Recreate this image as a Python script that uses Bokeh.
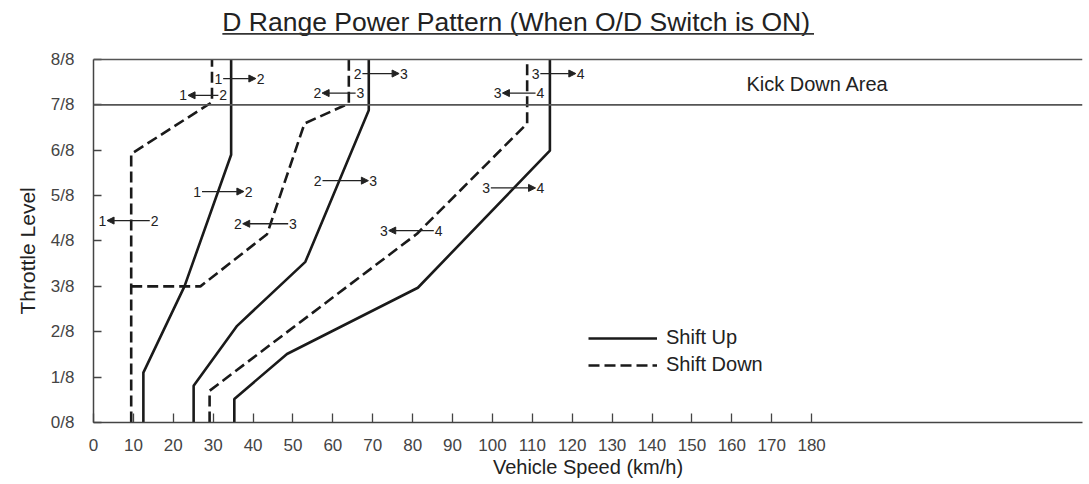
from bokeh.plotting import figure
from bokeh.models import (FixedTicker, Span, Label, Arrow, NormalHead, ColumnDataSource,
                          Legend, LegendItem, BoxAnnotation, Range1d, Title)
from bokeh.embed import file_html
from bokeh.resources import INLINE
from bokeh.core.properties import value

# ---------------- data ----------------
speed_ticks = list(range(0, 190, 10))
throttle_ticks = [0, 1, 2, 3, 4, 5, 6, 7, 8]
throttle_labels = ["0/8", "1/8", "2/8", "3/8", "4/8", "5/8", "6/8", "7/8", "8/8"]

# shift-up curves (solid)
up12_speed = [12.5, 12.5, 22.8, 34.5, 34.5]
up12_throttle = [0, 1.10, 3.0, 5.90, 8]
up23_speed = [25.1, 25.1, 36.0, 53.1, 69.0, 69.0]
up23_throttle = [0, 0.81, 2.13, 3.54, 6.88, 8]
up34_speed = [35.3, 35.3, 48.5, 81.3, 114.4, 114.4]
up34_throttle = [0, 0.52, 1.51, 2.97, 5.99, 8]

# shift-down curves (dashed)
down12_speed = [9.45, 9.45, 29.7, 29.7]
down12_throttle = [0, 5.92, 7.06, 8]
down23_speed = [9.45, 26.8, 43.5, 52.9, 64.0, 64.0]
down23_throttle = [3.0, 3.0, 4.15, 6.59, 7.03, 8]
down34_speed = [29.1, 29.1, 81.1, 108.7, 108.7]
down34_throttle = [0, 0.70, 4.16, 6.59, 8]

# shift annotations "n -> m"
shift_from = ["1", "1", "2", "2", "3", "3", "1", "1", "2", "2", "3", "3"]
shift_to = ["2", "2", "3", "3", "4", "4", "2", "2", "3", "3", "4", "4"]
shift_kind = ["up", "down", "up", "down", "up", "down", "up", "down", "down", "up", "up", "down"]
shift_x_from = [31.3, 22.5, 66.2, 56.1, 110.8, 101.3, 26.0, 2.2, 36.2, 56.2, 98.4, 72.8]
shift_x_to = [41.9, 32.5, 77.8, 66.9, 122.1, 112.0, 38.9, 15.3, 50.0, 70.1, 112.0, 86.5]
shift_y = [7.58, 7.21, 7.69, 7.26, 7.69, 7.26, 5.09, 4.45, 4.38, 5.33, 5.17, 4.23]

title_text = "D Range Power Pattern (When O/D Switch is ON)"
kick_text = "Kick Down Area"
y_label_text = "Throttle Level"

# ---------------- figure ----------------
FONT = "Liberation Sans"
INK = "#1a1a1a"
X_MAX = 247.9     # frame extends past the last labelled tick
Y_TOP = 9.30      # room above 8/8 for the title inside the canvas

p = figure(width=1089, height=484, output_backend="svg", toolbar_location=None, title=None,
           x_range=Range1d(0, X_MAX), y_range=Range1d(0, Y_TOP),
           min_border_left=93, min_border_right=7, min_border_top=0, min_border_bottom=62,
           outline_line_color=None, background_fill_color="white", border_fill_color="white")
p.grid.visible = False

# axes
p.xaxis.ticker = FixedTicker(ticks=speed_ticks)
p.xaxis.axis_label = "Vehicle Speed (km/h)"
p.yaxis.ticker = FixedTicker(ticks=throttle_ticks)
p.yaxis.major_label_overrides = {t: l for t, l in zip(throttle_ticks, throttle_labels)}
p.yaxis.bounds = (0, 8)
for ax in (p.xaxis, p.yaxis):
    ax.axis_line_color = "#444444"
    ax.axis_line_width = 1.5
    ax.major_tick_line_color = "#444444"
    ax.major_tick_line_width = 1.3
    ax.major_tick_out = 0
    ax.minor_tick_line_color = None
    ax.major_label_text_font = FONT
    ax.major_label_text_font_size = "17px"
    ax.major_label_text_color = "#444444"
    ax.axis_label_text_font = FONT
    ax.axis_label_text_font_size = "20px"
    ax.axis_label_text_font_style = "normal"
    ax.axis_label_text_color = "#222222"
p.xaxis.major_tick_in = 9
p.xaxis.major_label_standoff = 16
p.xaxis.axis_label_standoff = 2
p.yaxis.major_tick_in = 8
p.yaxis.major_label_standoff = 19

# y-axis title, centred on the 0/8..8/8 span rather than the whole frame
p.add_layout(Title(text=y_label_text, align="left", offset=108, standoff=18,
                   text_font=FONT, text_font_size="21px", text_font_style="normal",
                   text_color="#222222"), "left")

# top border (8/8) and kick-down boundary (7/8)
p.add_layout(Span(location=8, dimension="width", line_color="#555555", line_width=1.6))
p.add_layout(Span(location=7, dimension="width", line_color="#555555", line_width=1.6))

# chart title with underline
p.add_layout(Label(x=32.3, y=8.821, text=title_text, text_font=FONT,
                   text_font_size="26.5px", text_color="#222222",
                   text_align="left", text_baseline="middle"))
p.add_layout(BoxAnnotation(left=32.3, right=180.6, top=8.583, bottom=8.546,
                           fill_color="#333333", fill_alpha=1, line_color=None))

# curves
solid = dict(line_color=INK, line_width=2.6)
dashed = dict(line_color=INK, line_width=2.6, line_dash="11 5")
r_up = [p.line(up12_speed, up12_throttle, **solid),
        p.line(up23_speed, up23_throttle, **solid),
        p.line(up34_speed, up34_throttle, **solid)]
r_down = [p.line(down12_speed, down12_throttle, **dashed),
          p.line(down23_speed, down23_throttle, **dashed),
          p.line(down34_speed, down34_throttle, **dashed)]

# shift labels
digit_src = ColumnDataSource(dict(
    x=shift_x_from + shift_x_to,
    y=shift_y + shift_y,
    t=shift_from + shift_to))
p.text(x="x", y="y", text="t", source=digit_src, text_font=value(FONT),
       text_font_size=value("14px"), text_color="#222222",
       text_align="center", text_baseline="middle")

gap = 1.2
xs, xe = [], []
for a, b, k in zip(shift_x_from, shift_x_to, shift_kind):
    if k == "up":
        xs.append(a + gap); xe.append(b - gap)
    else:
        xs.append(b - gap); xe.append(a + gap)
arrow_src = ColumnDataSource(dict(xs=xs, xe=xe, y=shift_y))
p.add_layout(Arrow(end=NormalHead(size=7, fill_color="#222222", line_color="#222222", line_width=1),
                   source=arrow_src, x_start="xs", y_start="y", x_end="xe", y_end="y",
                   line_color="#222222", line_width=1.3))

p.add_layout(Label(x=181.5, y=7.45, text=kick_text, text_font=FONT,
                   text_font_size="20px", text_color="#222222",
                   text_align="center", text_baseline="middle"))

# legend
legend = Legend(items=[LegendItem(label="Shift Up", renderers=[r_up[0]]),
                       LegendItem(label="Shift Down", renderers=[r_down[0]])],
                location=(495, 46), orientation="vertical",
                glyph_width=69, glyph_height=20, label_standoff=9,
                label_text_font=FONT, label_text_font_size="20px", label_text_color="#222222",
                padding=0, margin=0, spacing=4,
                border_line_color=None, background_fill_alpha=0)
p.add_layout(legend)

open("out.html", "w").write(file_html(p, INLINE))
